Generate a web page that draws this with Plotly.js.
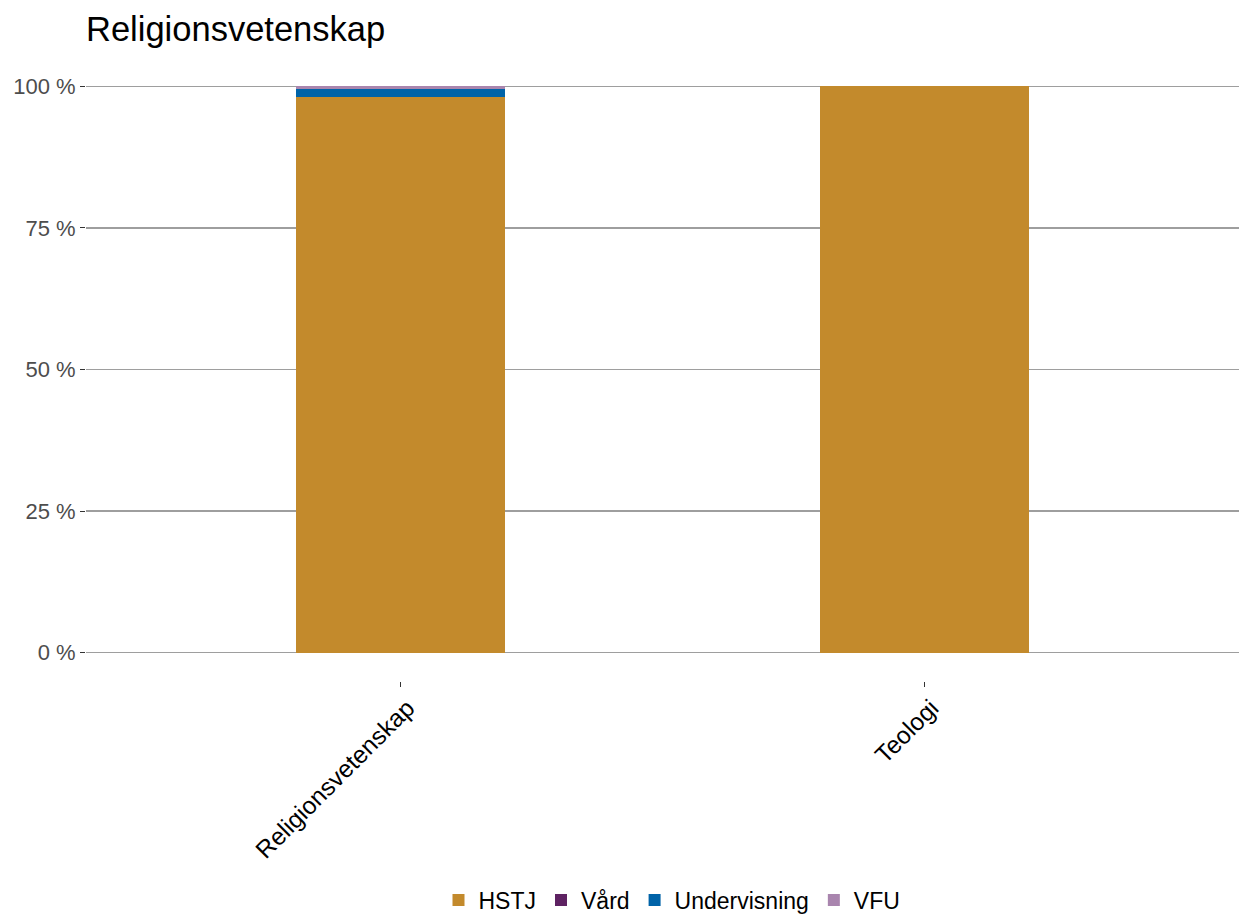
<!DOCTYPE html>
<html>
<head>
<meta charset="utf-8">
<script src="https://cdn.plot.ly/plotly-3.0.1.min.js"></script>
<style>
html,body{margin:0;padding:0;background:#fff;}
#chart{width:1239px;height:917px;}
</style>
</head>
<body>
<div id="chart"></div>
<script>
const categories = ["Religionsvetenskap", "Teologi"];
const seriesNames = ["HSTJ", "Vård", "Undervisning", "VFU"];
const hstj = [98.1, 100];
const vard = [0, 0];
const undervisning = [1.5, 0];
const vfu = [0.4, 0];
const seriesColors = ["#C38A2C", "#5E2262", "#0063A8", "#A985AE"];
const yTickVals = [0, 25, 50, 75, 100];
const yTickText = ["0 %", "25 %", "50 %", "75 %", "100 %"];

const values = [hstj, vard, undervisning, vfu];
const traces = seriesNames.map((name, i) => ({
  type: "bar",
  name: name,
  x: categories,
  y: values[i],
  marker: {color: seriesColors[i], line: {width: 0}},
  width: 0.4,
  hoverinfo: "x+y+name"
}));

const layout = {
  width: 1239,
  height: 917,
  barmode: "stack",
  paper_bgcolor: "#ffffff",
  plot_bgcolor: "#ffffff",
  font: {family: "Liberation Sans, Arial, sans-serif", color: "#000"},
  margin: {l: 86, r: 0, t: 58, b: 236, pad: 0},
  title: {
    text: "Religionsvetenskap",
    font: {size: 34.5, color: "#000"},
    x: 86 / 1239, xref: "container", xanchor: "left",
    y: 1 - 29 / 917, yref: "container", yanchor: "middle"
  },
  xaxis: {
    type: "category",
    range: [-0.6, 1.6],
    showgrid: false,
    zeroline: false,
    showline: false,
    ticks: "outside",
    ticklen: 5,
    tickwidth: 1,
    tickcolor: "#333",
    tickangle: -45,
    ticklabelshift: 7,
    ticklabelstandoff: -3,
    tickfont: {size: 24.5, color: "#000"}
  },
  yaxis: {
    range: [-5, 105],
    tickvals: yTickVals,
    ticktext: yTickText,
    showgrid: true,
    gridcolor: "#9e9e9e",
    gridwidth: 1.2,
    zeroline: false,
    showline: false,
    ticks: "outside",
    ticklen: 5,
    tickwidth: 1,
    tickcolor: "#333",
    tickfont: {size: 22, color: "#4d4d4d"}
  },
  showlegend: true,
  legend: {
    orientation: "h",
    x: 672 / 1239, xref: "container", xanchor: "center",
    y: 17 / 917, yref: "container", yanchor: "middle",
    font: {size: 23, color: "#000"},
    traceorder: "normal",
    itemwidth: 30
  }
};

Plotly.newPlot("chart", traces, layout, {displayModeBar: false, staticPlot: true});
</script>
</body>
</html>
